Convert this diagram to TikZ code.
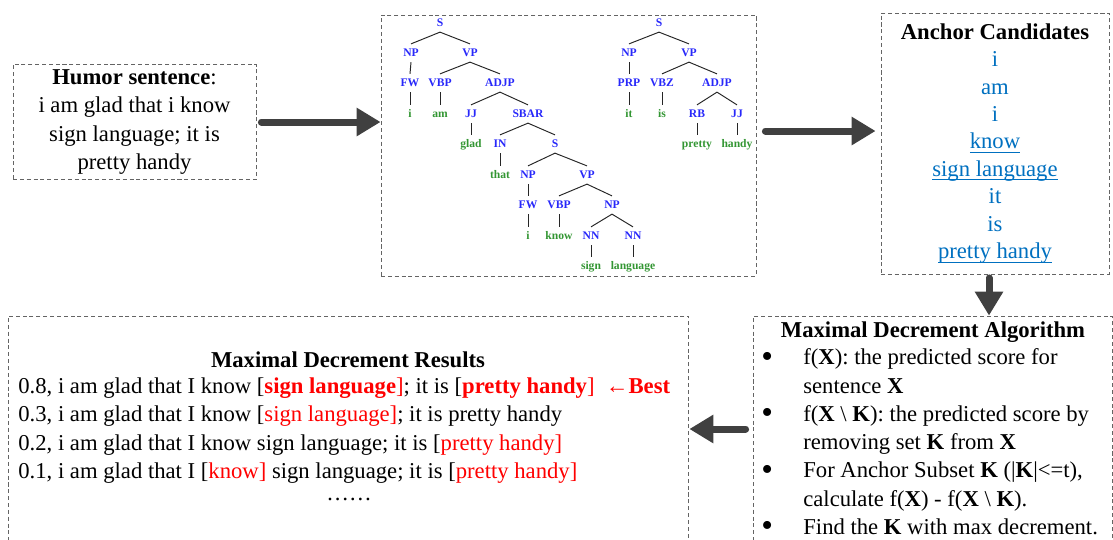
\documentclass[tikz,border=0pt]{standalone}
\usepackage{fontspec}
\setmainfont{Liberation Serif}
\usetikzlibrary{arrows.meta}
\definecolor{boxgray}{RGB}{100,100,100}
\definecolor{arrowgray}{RGB}{64,64,64}
\definecolor{tagblue}{RGB}{40,40,250}
\definecolor{wordgreen}{RGB}{51,150,51}
\definecolor{anchorblue}{RGB}{0,112,192}
\newcommand\anchorline[1]{\setbox0\hbox{#1}\rlap{\rule[-2.3pt]{\wd0}{0.55pt}}\box0}
\newcommand\bigdot{\raisebox{-1.3pt}{\fontsize{19}{16}\selectfont\textbullet}}

\begin{document}
\begin{tikzpicture}[x=0.02cm,y=-0.02cm]
\tikzset{dashbox/.style={draw=boxgray, line width=0.5pt, dash pattern=on 2.3pt off 1.6pt}}
\tikzset{bigarrow/.style={draw=arrowgray, line width=0.14cm, line cap=round, -{Triangle[length=0.48cm,width=0.54cm]}}}
\tikzset{treenode/.style={font=\fontsize{6.6}{8}\selectfont\bfseries, inner sep=2pt, text height=5pt, text depth=1pt}}
\tikzset{tagnode/.style={treenode, text=tagblue}}
\tikzset{wordnode/.style={treenode, text=wordgreen}}
\tikzset{treeedge/.style={draw=black!85, line width=0.55pt}}
\useasboundingbox (0,0) rectangle (1113,539);

% boxes
\node[dashbox, minimum width=4.86cm, minimum height=2.16cm, align=center,
  font=\fontsize{12.9}{16}\selectfont] (humor) at (134.5,122)
  {\textbf{Humor sentence}:\\ i am glad that i know\\ sign language; it is\\ pretty handy};
\node[dashbox, minimum width=7.5cm, minimum height=5.22cm] (parse) at (568.5,145.5) {};
\node[dashbox, minimum width=4.56cm, minimum height=5.22cm, align=center,
  font=\fontsize{12.9}{15.6}\selectfont] (anchor) at (995,143.5)
  {\textbf{Anchor Candidates}\\ \color{anchorblue} i\\ \color{anchorblue} am\\
   \color{anchorblue} i\\ \color{anchorblue}\anchorline{know}\\
   \color{anchorblue}\anchorline{sign language}\\ \color{anchorblue} it\\
   \color{anchorblue} is\\ \color{anchorblue}\anchorline{pretty handy}};
\node[dashbox, minimum width=7.18cm, minimum height=4.52cm] (algo) at (932.5,429) {};
\node[dashbox, minimum width=13.62cm, minimum height=4.52cm] (results) at (348.5,429) {};

% left tree
\node[tagnode] (t1s) at (440,23) {S};
\node[tagnode] (t1np) at (411,53) {NP};
\node[tagnode] (t1vp) at (470,53) {VP};
\node[tagnode] (t1fw) at (410,83) {FW};
\node[tagnode] (t1vbp) at (440,83) {VBP};
\node[tagnode] (t1adjp) at (500,83) {ADJP};
\node[wordnode] (t1i) at (410,114) {i};
\node[wordnode] (t1am) at (440,114) {am};
\node[tagnode] (t1jj) at (471,114) {JJ};
\node[tagnode] (t1sbar) at (528,114) {SBAR};
\node[wordnode] (t1glad) at (471,144) {glad};
\node[tagnode] (t1in) at (500,144) {IN};
\node[tagnode] (t1ss) at (555,144) {S};
\node[wordnode] (t1that) at (500,175) {that};
\node[tagnode] (t1np2) at (528,175) {NP};
\node[tagnode] (t1vp2) at (587,175) {VP};
\node[tagnode] (t1fw2) at (528,205) {FW};
\node[tagnode] (t1vbp2) at (559,205) {VBP};
\node[tagnode] (t1np3) at (612,205) {NP};
\node[wordnode] (t1i2) at (528,236) {i};
\node[wordnode] (t1know) at (559,236) {know};
\node[tagnode] (t1nn) at (591,236) {NN};
\node[tagnode] (t1nn2) at (633,236) {NN};
\node[wordnode] (t1sign) at (591,266) {sign};
\node[wordnode] (t1lang) at (633,266) {language};
\foreach \a/\b in {t1s/t1np, t1s/t1vp, t1np/t1fw, t1fw/t1i, t1vp/t1vbp, t1vp/t1adjp,
  t1vbp/t1am, t1adjp/t1jj, t1adjp/t1sbar, t1jj/t1glad, t1sbar/t1in, t1sbar/t1ss,
  t1in/t1that, t1ss/t1np2, t1ss/t1vp2, t1np2/t1fw2, t1fw2/t1i2, t1vp2/t1vbp2,
  t1vp2/t1np3, t1vbp2/t1know, t1np3/t1nn, t1np3/t1nn2, t1nn/t1sign, t1nn2/t1lang}
  \draw[treeedge] (\a.south) -- (\b.north);

% right tree
\node[tagnode] (t2s) at (659,23) {S};
\node[tagnode] (t2np) at (629,53) {NP};
\node[tagnode] (t2vp) at (689,53) {VP};
\node[tagnode] (t2prp) at (629,83) {PRP};
\node[tagnode] (t2vbz) at (662,83) {VBZ};
\node[tagnode] (t2adjp) at (717,83) {ADJP};
\node[wordnode] (t2it) at (629,114) {it};
\node[wordnode] (t2is) at (662,114) {is};
\node[tagnode] (t2rb) at (697,114) {RB};
\node[tagnode] (t2jj) at (737,114) {JJ};
\node[wordnode] (t2pretty) at (697,144) {pretty};
\node[wordnode] (t2handy) at (737,144) {handy};
\foreach \a/\b in {t2s/t2np, t2s/t2vp, t2np/t2prp, t2prp/t2it, t2vp/t2vbz, t2vp/t2adjp,
  t2vbz/t2is, t2adjp/t2rb, t2adjp/t2jj, t2rb/t2pretty, t2jj/t2handy}
  \draw[treeedge] (\a.south) -- (\b.north);

% algorithm
\node[font=\fontsize{12.9}{16}\selectfont\bfseries] (algotitle) at (933,332) {Maximal Decrement Algorithm};
\node[anchor=west, inner sep=0pt, font=\fontsize{12.9}{16.1}\selectfont] (algolist) at (761,444)
  {\begin{tabular}{@{}p{0.84cm}@{}l@{}}
   \bigdot & f(\textbf{X}): the predicted score for\\
   & sentence \textbf{X}\\
   \bigdot & f(\textbf{X} \textbackslash{} \textbf{K}): the predicted score by\\
   & removing set \textbf{K} from \textbf{X}\\
   \bigdot & For Anchor Subset \textbf{K} (|\textbf{K}|<=t),\\
   & calculate f(\textbf{X}) - f(\textbf{X} \textbackslash{} \textbf{K}).\\
   \bigdot & Find the \textbf{K} with max decrement.
   \end{tabular}};

% results
\node[font=\fontsize{12.9}{16}\selectfont\bfseries] (restitle) at (348,360) {Maximal Decrement Results};
\node[anchor=west, inner sep=0pt, align=left, font=\fontsize{12.9}{16.1}\selectfont] (reslines) at (18,430.5)
  {0.8, i am glad that I know [\textcolor{red}{\textbf{sign language}]}; it is
   [\textcolor{red}{\textbf{pretty handy}]}~~\textcolor{red}{\textbf{←Best}}\\
   0.3, i am glad that I know [\textcolor{red}{sign language]}; it is pretty handy\\
   0.2, i am glad that I know sign language; it is [\textcolor{red}{pretty handy]}\\
   0.1, i am glad that I [\textcolor{red}{know]} sign language; it is [\textcolor{red}{pretty handy]}};
\node[font=\fontsize{12.9}{16}\selectfont] (resdots) at (349,499) {……};

% arrows
\draw[bigarrow] ([xshift=0.1cm]humor.east) -- (humor.east -| parse.west);
\draw[bigarrow, shorten >=0.1cm] ([xshift=0.18cm,yshift=0.29cm]parse.east) -- ([yshift=0.29cm]parse.east -| anchor.west);
\draw[bigarrow] ([xshift=-0.12cm,yshift=-0.07cm]anchor.south) -- ([xshift=-0.12cm]anchor.south |- algo.north);
\draw[bigarrow] ([xshift=-0.14cm]algo.west) -- (results.east);
\end{tikzpicture}
\end{document}
